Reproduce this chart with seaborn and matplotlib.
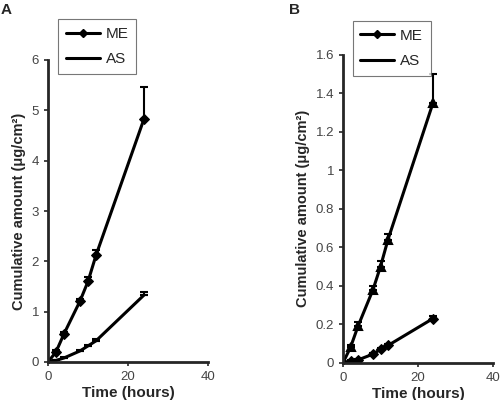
import matplotlib
matplotlib.use("Agg")
import matplotlib.pyplot as plt
import numpy as np
import seaborn as sb
from matplotlib.lines import Line2D

hours = [0, 2, 4, 8, 10, 12, 24]

# Panel A
a_me = [0, 0.20, 0.56, 1.21, 1.60, 2.12, 4.83]
a_me_err = [0.02, 0.03, 0.04, 0.05, 0.08, 0.10, 0.63]
a_as = [0, 0.03, 0.08, 0.22, 0.32, 0.42, 1.33]
a_as_err = [0.01, 0.01, 0.01, 0.02, 0.02, 0.03, 0.06]

# Panel B
b_me = [0, 0.010, 0.015, 0.045, 0.070, 0.090, 0.230]
b_me_err = [0.002, 0.003, 0.004, 0.005, 0.006, 0.006, 0.015]
b_as = [0, 0.08, 0.19, 0.38, 0.50, 0.64, 1.35]
b_as_err = [0.005, 0.015, 0.02, 0.02, 0.03, 0.03, 0.15]

sb.set_style("ticks")
plt.rcParams["font.family"] = ["Liberation Sans", "DejaVu Sans"]


def panel(ax, me, me_err, as_, as_err, as_marker, ymax, yticks, ylabels, leg_y):
    sb.lineplot(x=hours, y=me, color="black", linewidth=2.2, marker="D",
                markersize=5.5, markeredgecolor="black", ax=ax)
    sb.lineplot(x=hours, y=as_, color="black", linewidth=2.2, marker=as_marker,
                markersize=6, markeredgecolor="black", markeredgewidth=1.5, ax=ax)
    for y, e in ((me, me_err), (as_, as_err)):
        ax.errorbar(hours, y, yerr=[np.zeros(len(e)), e], fmt="none",
                    ecolor="black", elinewidth=1.5, capsize=3, capthick=1.5)
    ax.set_xlim(0, 40)
    ax.set_ylim(0, ymax)
    ax.set_xticks([0, 20, 40])
    ax.set_yticks(yticks)
    ax.set_yticklabels(ylabels)
    ax.set_xlabel("Time (hours)", fontsize=11, fontweight="bold", labelpad=2)
    ax.set_ylabel("Cumulative amount (μg/cm²)", fontsize=10.5, fontweight="bold")
    ax.tick_params(labelsize=9.5, labelcolor="#444444", length=3, width=1.2)
    for s in ("left", "bottom"):
        ax.spines[s].set_linewidth(2)
    sb.despine(ax=ax)
    handles = [Line2D([], [], color="black", lw=2.2, marker="D", markersize=4),
               Line2D([], [], color="black", lw=2.2)]
    leg = ax.legend(handles, ["ME", "AS"], loc="upper left",
                    bbox_to_anchor=(0.065, leg_y), borderaxespad=0,
                    fontsize=11, frameon=True, fancybox=False,
                    handlelength=2.2, borderpad=0.5, labelspacing=0.75,
                    handletextpad=0.4)
    leg.get_frame().set_edgecolor("#555555")
    leg.get_frame().set_linewidth(0.8)


fig = plt.figure(figsize=(5, 4), dpi=100)
ax1 = fig.add_axes([0.096, 0.095, 0.32, 0.755])
ax2 = fig.add_axes([0.686, 0.093, 0.30, 0.77])

panel(ax1, a_me, a_me_err, a_as, a_as_err, "_", 6,
      [0, 1, 2, 3, 4, 5, 6], ["0", "1", "2", "3", "4", "5", "6"], 1.135)
panel(ax2, b_me, b_me_err, b_as, b_as_err, "^", 1.6,
      [0, 0.2, 0.4, 0.6, 0.8, 1.0, 1.2, 1.4, 1.6],
      ["0", "0.2", "0.4", "0.6", "0.8", "1", "1.2", "1.4", "1.6"], 1.11)

fig.text(0.002, 0.975, "A", fontsize=11, fontweight="bold", va="center")
fig.text(0.578, 0.975, "B", fontsize=11, fontweight="bold", va="center")

fig.savefig("out.png", dpi=100)
